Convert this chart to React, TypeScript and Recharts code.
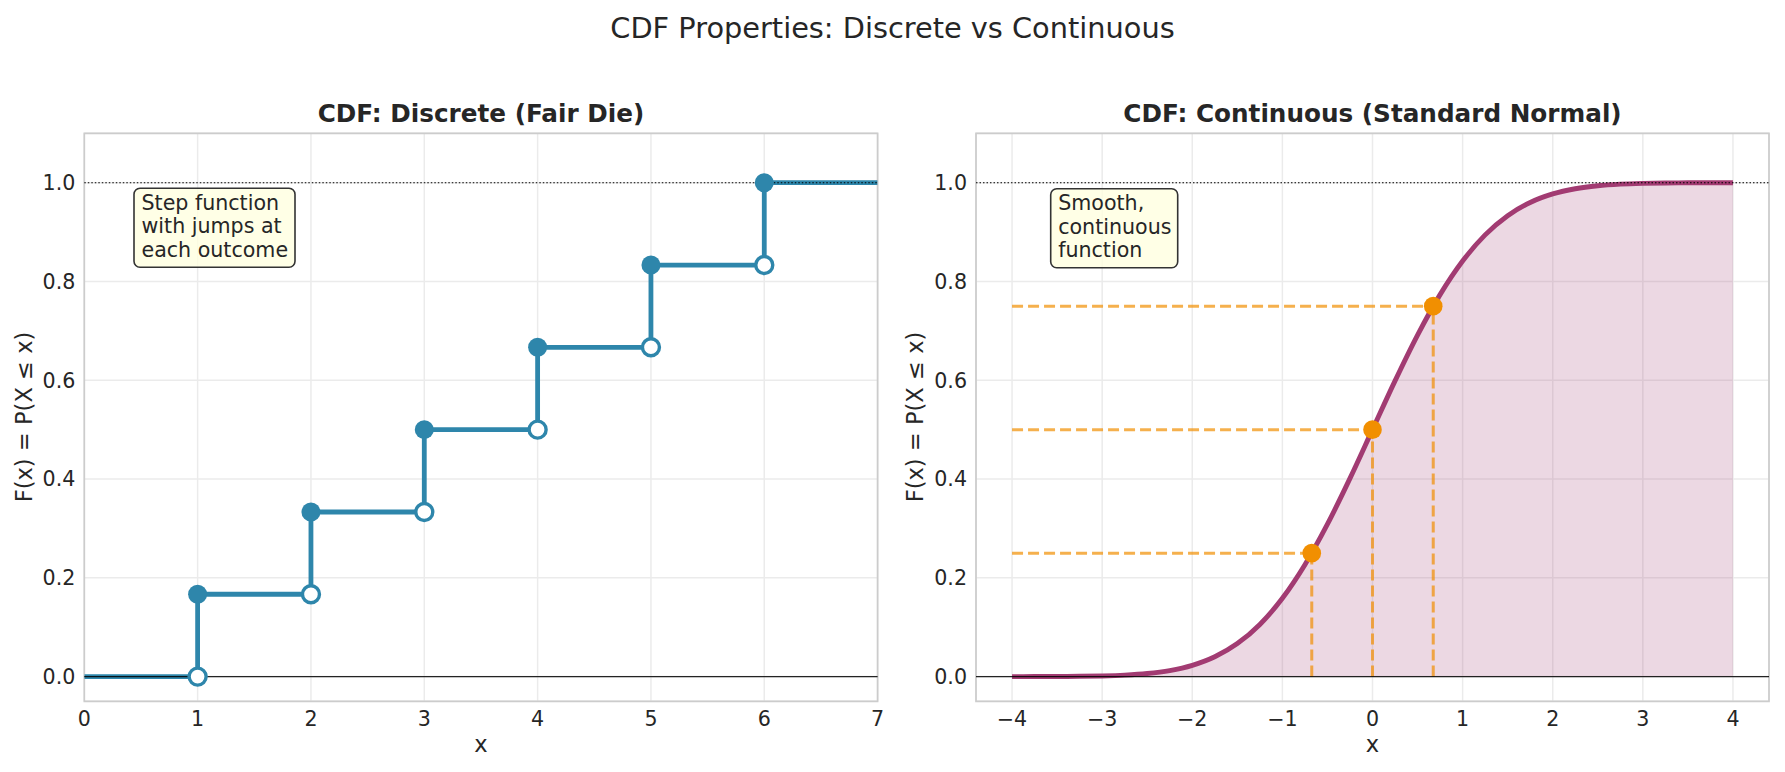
import {
  ComposedChart,
  Line,
  Area,
  Scatter,
  XAxis,
  YAxis,
  CartesianGrid,
  ReferenceLine,
  ReferenceArea,
} from 'recharts';

// discrete: fair die
const dieX = [0, 1, 2, 3, 4, 5, 6, 7];
const dieF = [0, 0.1667, 0.3333, 0.5, 0.6667, 0.8333, 1.0, 1.0];
const outcomes = [1, 2, 3, 4, 5, 6];

// continuous: standard normal
const normX = [
  -4, -3.75, -3.5, -3.25, -3, -2.75, -2.5, -2.25, -2, -1.75, -1.5, -1.25, -1, -0.75, -0.5, -0.25,
  0, 0.25, 0.5, 0.75, 1, 1.25, 1.5, 1.75, 2, 2.25, 2.5, 2.75, 3, 3.25, 3.5, 3.75, 4,
];
const normF = [
  0.00003, 0.00009, 0.00023, 0.00058, 0.00135, 0.00298, 0.00621, 0.01222, 0.02275, 0.04006,
  0.06681, 0.10565, 0.15866, 0.22663, 0.30854, 0.40129, 0.5, 0.59871, 0.69146, 0.77337, 0.84134,
  0.89435, 0.93319, 0.95994, 0.97725, 0.98778, 0.99379, 0.99702, 0.99865, 0.99942, 0.99977,
  0.99991, 0.99997,
];
const quantX = [-0.674, 0, 0.674];
const quantP = [0.25, 0.5, 0.75];

const discreteTicks = [0, 1, 2, 3, 4, 5, 6, 7];
const normalTicks = [-4, -3, -2, -1, 0, 1, 2, 3, 4];
const probTicks = [0, 0.2, 0.4, 0.6, 0.8, 1.0];

const discreteDomain: [number, number] = [0, 7];
const normalDomain: [number, number] = [-4.4, 4.4];
const probDomain: [number, number] = [-0.05, 1.1];

const BLUE = '#2E86AB';
const PURPLE = '#A23B72';
const ORANGE = '#F18F01';
const TEXT = '#262626';
const FONT = '"DejaVu Sans", sans-serif';

const stepData = dieX.map((x, i) => ({ x, y: dieF[i] }));
const filledPts = outcomes.map((k) => ({ x: k, y: dieF[k] }));
const openPts = outcomes.map((k) => ({ x: k, y: dieF[k - 1] }));
const normData = normX.map((x, i) => ({ x, y: normF[i] }));
const quantPts = quantX.map((x, i) => ({ x, y: quantP[i] }));

const tickStyle = { fontSize: 20.6, fill: TEXT, fontFamily: FONT };
const fmtX = (v: number) => (v < 0 ? `\u2212${Math.abs(v)}` : String(v));

const FilledDot = (props: any) => <circle cx={props.cx} cy={props.cy} r={9.5} fill={BLUE} />;
const OpenDot = (props: any) => (
  <circle cx={props.cx} cy={props.cy} r={8.5} fill="#fff" stroke={BLUE} strokeWidth={3.4} />
);
const OrangeDot = (props: any) => <circle cx={props.cx} cy={props.cy} r={9.3} fill={ORANGE} />;

function axes(domain: [number, number], ticks: number[]) {
  return [
    <CartesianGrid key="g" stroke="#ebebeb" strokeWidth={1.5} />,
    <XAxis
      key="x"
      dataKey="x"
      type="number"
      domain={domain}
      ticks={ticks}
      allowDataOverflow
      axisLine={false}
      tickLine={false}
      tickSize={0}
      tickMargin={10}
      height={40}
      tick={tickStyle}
      tickFormatter={fmtX}
      interval={0}
    />,
    <YAxis
      key="y"
      type="number"
      domain={probDomain}
      ticks={probTicks}
      allowDataOverflow
      axisLine={false}
      tickLine={false}
      tickSize={0}
      tickMargin={9}
      width={60}
      tick={tickStyle}
      tickFormatter={(v: number) => v.toFixed(1)}
      interval={0}
    />,
  ];
}

function frame(domain: [number, number]) {
  return [
    <ReferenceLine key="z" y={0} stroke="#000" strokeWidth={1.4} strokeOpacity={0.85} />,
    <ReferenceLine key="o" y={1} stroke="#000" strokeWidth={1.1} strokeDasharray="1.5 2" />,
    <ReferenceArea
      key="s"
      x1={domain[0]}
      x2={domain[1]}
      y1={probDomain[0]}
      y2={probDomain[1]}
      fill="none"
      fillOpacity={0}
      stroke="#cccccc"
      strokeWidth={1.7}
      ifOverflow="visible"
    />,
  ];
}

function NoteBox({ x, y, w, lines }: { x: number; y: number; w: number; lines: string[] }) {
  return (
    <g>
      <rect x={x} y={y} width={w} height={79} rx={6} fill="#FFFFE0" fillOpacity={0.8} stroke="#333" strokeWidth={1.6} />
      {lines.map((l, i) => (
        <text key={i} x={x + 7.5} y={y + 21.7 + i * 23.4} fontSize={20.6} fill={TEXT} fontFamily={FONT}>
          {l}
        </text>
      ))}
    </g>
  );
}

export default function App() {
  return (
    <div style={{ position: 'fixed', left: 0, top: 0, width: 1785, height: 772, background: '#fff' }}>
      <div style={{ position: 'absolute', left: 0, top: 0 }}>
        <ComposedChart width={900} height={772} margin={{ top: 133.3, right: 22.4, bottom: 30.7, left: 24.3 }}>
          {axes(discreteDomain, discreteTicks)}
          <Line data={stepData} dataKey="y" type="stepAfter" stroke={BLUE} strokeWidth={4.8} dot={false} activeDot={false} isAnimationActive={false} />
          {frame(discreteDomain)}
          <Scatter data={filledPts} dataKey="y" shape={FilledDot} isAnimationActive={false} />
          <Scatter data={openPts} dataKey="y" shape={OpenDot} isAnimationActive={false} />
        </ComposedChart>
      </div>
      <div style={{ position: 'absolute', left: 890, top: 0 }}>
        <ComposedChart width={895} height={772} margin={{ top: 133.3, right: 16, bottom: 30.7, left: 26 }}>
          {axes(normalDomain, normalTicks)}
          <Area data={normData} dataKey="y" type="monotone" baseValue={0} fill={PURPLE} fillOpacity={0.2} stroke="none" isAnimationActive={false} />
          <Line data={normData} dataKey="y" type="monotone" stroke={PURPLE} strokeWidth={4.9} dot={false} activeDot={false} isAnimationActive={false} />
          {quantPts.map((p, i) => (
            <ReferenceLine
              key={`h${i}`}
              segment={[{ x: normX[0], y: p.y }, { x: p.x, y: p.y }]}
              stroke={ORANGE}
              strokeOpacity={0.7}
              strokeWidth={3}
              strokeDasharray="11 5"
            />
          ))}
          {quantPts.map((p, i) => (
            <ReferenceLine
              key={`v${i}`}
              segment={[{ x: p.x, y: 0 }, { x: p.x, y: p.y }]}
              stroke={ORANGE}
              strokeOpacity={0.7}
              strokeWidth={3}
              strokeDasharray="11 5"
            />
          ))}
          {frame(normalDomain)}
          <Scatter data={quantPts} dataKey="y" shape={OrangeDot} isAnimationActive={false} />
        </ComposedChart>
      </div>
      <svg width={1785} height={772} style={{ position: 'absolute', left: 0, top: 0, pointerEvents: 'none' }}>
        <text x={892.5} y={38} textAnchor="middle" fontSize={28.8} fill={TEXT} fontFamily={FONT}>
          CDF Properties: Discrete vs Continuous
        </text>
        <text x={481} y={122} textAnchor="middle" fontSize={24.7} fontWeight="bold" fill={TEXT} fontFamily={FONT}>
          CDF: Discrete (Fair Die)
        </text>
        <text x={1372.5} y={122} textAnchor="middle" fontSize={24.7} fontWeight="bold" fill={TEXT} fontFamily={FONT}>
          CDF: Continuous (Standard Normal)
        </text>
        <text x={481} y={752} textAnchor="middle" fontSize={22.6} fill={TEXT} fontFamily={FONT}>x</text>
        <text x={1372.5} y={752} textAnchor="middle" fontSize={22.6} fill={TEXT} fontFamily={FONT}>x</text>
        <text x={31.5} y={417} transform="rotate(-90 31.5 417)" textAnchor="middle" fontSize={22.6} fill={TEXT} fontFamily={FONT}>
          F(x) = P(X ≤ x)
        </text>
        <text x={923} y={417} transform="rotate(-90 923 417)" textAnchor="middle" fontSize={22.6} fill={TEXT} fontFamily={FONT}>
          F(x) = P(X ≤ x)
        </text>
        <NoteBox x={134} y={188.3} w={161} lines={['Step function', 'with jumps at', 'each outcome']} />
        <NoteBox x={1050.7} y={188.7} w={127} lines={['Smooth,', 'continuous', 'function']} />
      </svg>
    </div>
  );
}
